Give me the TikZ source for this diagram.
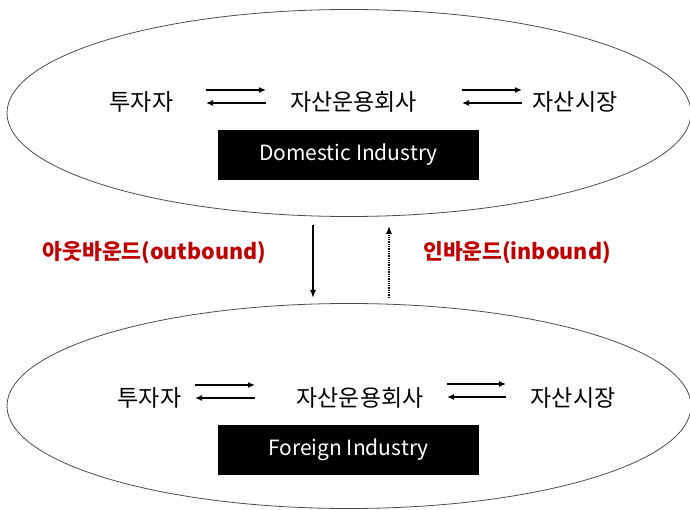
\documentclass[tikz,border=0pt]{standalone}
\usepackage{fontspec}
\setmainfont{Noto Sans CJK KR}
\usetikzlibrary{shapes.geometric,arrows.meta}
\definecolor{lblred}{RGB}{192,0,0}
\begin{document}
\begin{tikzpicture}[x=1pt,y=-1pt,
  oval/.style={ellipse,draw=black!70,line width=0.8pt,inner sep=0pt},
  kor/.style={font=\fontsize{23}{26}\selectfont,inner sep=0pt},
  blk/.style={fill=black,text=white,minimum width=261pt,minimum height=50pt,inner sep=0pt,font=\fontsize{21}{24}\selectfont},
  lbl/.style={text=lblred,font=\bfseries\fontsize{21.5}{24}\selectfont,inner sep=0pt},
  arr/.style={-{Latex[length=7pt,width=6pt]},line width=1.7pt},
  varr/.style={-{Latex[length=8pt,width=6pt]},line width=1.3pt}]
\useasboundingbox (0,0) rectangle (690,510);
% top ellipse
\node[oval,minimum width=684pt,minimum height=207pt] (top) at (349,113) {};
\node[kor] (t1) at (141.5,102) {투자자};
\node[kor] (t2) at (353.5,102) {자산운용회사};
\node[kor] (t3) at (575,102) {자산시장};
\coordinate (a1) at (206,90); \coordinate (a2) at (266,90);
\coordinate (a3) at (206,103); \coordinate (a4) at (266,103);
\coordinate (b1) at (462,90); \coordinate (b2) at (522,90);
\coordinate (b3) at (462,103); \coordinate (b4) at (522,103);
\draw[arr] (a1) -- (a2);
\draw[arr] (a4) -- (a3);
\draw[arr] (b1) -- (b2);
\draw[arr] (b4) -- (b3);
\node[blk] (dom) at (348.5,155) {Domestic Industry};
% bottom ellipse
\node[oval,minimum width=684pt,minimum height=205pt] (bot) at (349,406) {};
\node[kor] (f1) at (149.5,398) {투자자};
\node[kor] (f2) at (360,398) {자산운용회사};
\node[kor] (f3) at (573,398) {자산시장};
\coordinate (c1) at (195,385); \coordinate (c2) at (255,385);
\coordinate (c3) at (195,398); \coordinate (c4) at (255,398);
\coordinate (d1) at (447,384); \coordinate (d2) at (506,384);
\coordinate (d3) at (447,397); \coordinate (d4) at (506,397);
\draw[arr] (c1) -- (c2);
\draw[arr] (c4) -- (c3);
\draw[arr] (d1) -- (d2);
\draw[arr] (d4) -- (d3);
\node[blk] (for) at (348.5,450) {Foreign Industry};
% between
\coordinate (o1) at (313,225); \coordinate (o2) at (313,298);
\coordinate (i1) at (389,298); \coordinate (i2) at (389,226);
\draw[varr] (o1) -- (o2);
\draw[varr,densely dotted] (i1) -- (i2);
\node[lbl] (out) at (154.5,253) {아웃바운드(outbound)};
\node[lbl] (in) at (517,253) {인바운드(inbound)};
\end{tikzpicture}
\end{document}
